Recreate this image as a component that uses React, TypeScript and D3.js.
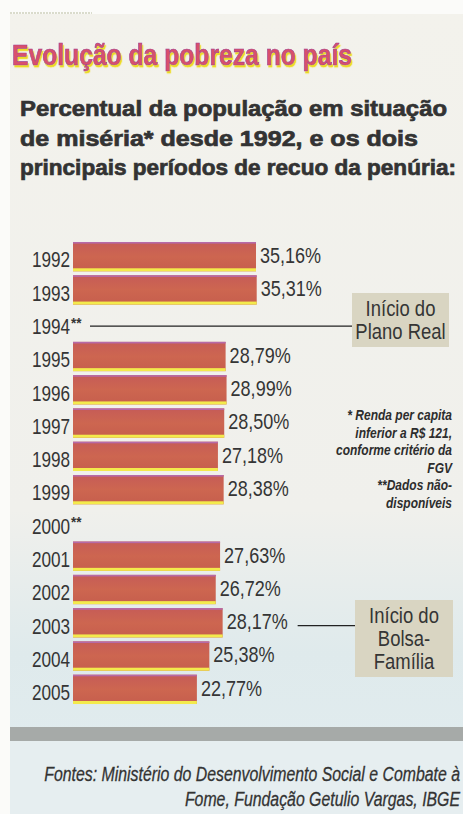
import * as d3 from "d3";

// Percentual da população em situação de miséria (FGV)
const years: string[] = [
  "1992", "1993", "1994", "1995", "1996", "1997", "1998",
  "1999", "2000", "2001", "2002", "2003", "2004", "2005",
];
const values: (number | null)[] = [
  35.16, 35.31, null, 28.79, 28.99, 28.5, 27.18,
  28.38, null, 27.63, 26.72, 28.17, 25.38, 22.77,
];

const titleText = "Evolução da pobreza no país";
const subtitleLines = [
  "Percentual da população em situação",
  "de miséria* desde 1992, e os dois",
  "principais períodos de recuo da penúria:",
];
const footnoteLines = [
  "* Renda per capita",
  "inferior a R$ 121,",
  "conforme critério da",
  "FGV",
  "**Dados não-",
  "disponíveis",
];
const sourceLines = [
  "Fontes: Ministério do Desenvolvimento Social e Combate à",
  "Fome, Fundação Getulio Vargas, IBGE",
];
const annotations = [
  { year: "1994", lines: ["Início do", "Plano Real"] },
  { year: "2003", lines: ["Início do", "Bolsa-", "Família"] },
];

const W = 463;
const H = 814;
const FONT = "'Liberation Sans', Arial, Helvetica, sans-serif";
const INK = "#353535";

const fmt = (v: number) => d3.format(".2f")(v).replace(".", ",") + "%";

const App = () => {
  const x = d3.scaleLinear().domain([-3.2, 36]).range([73, 260]);
  const y = d3
    .scaleBand<string>()
    .domain(years)
    .range([238, 708])
    .paddingInner(0.12)
    .paddingOuter(0.12);
  const bw = y.bandwidth();

  const narrow = (
    tx: number,
    ty: number,
    s: string,
    size: number,
    sx: number,
    anchor: "start" | "end" | "middle" = "start",
    extra: Record<string, string | number> = {}
  ) => (
    <text
      transform={`translate(${tx},${ty}) scale(${sx},1)`}
      fontFamily={FONT}
      fontSize={size}
      fill={INK}
      textAnchor={anchor}
      {...extra}
    >
      {s}
    </text>
  );

  return (
    <svg
      width={W}
      height={H}
      viewBox={`0 0 ${W} ${H}`}
      style={{ position: "absolute", left: 0, top: 0, display: "block" }}
    >
      <defs>
        <linearGradient id="paper" x1="0" y1="0" x2="0" y2="1">
          <stop offset="0" stopColor="#f3f2ec" />
          <stop offset="0.62" stopColor="#f0f0ec" />
          <stop offset="0.8" stopColor="#dfeaec" />
          <stop offset="1" stopColor="#e2edf0" />
        </linearGradient>
        <linearGradient id="bar" x1="0" y1="0" x2="0" y2="1">
          <stop offset="0" stopColor="#c65c57" />
          <stop offset="0.5" stopColor="#cd6650" />
          <stop offset="1" stopColor="#c65e4d" />
        </linearGradient>
        <filter id="yshadow" x="-5%" y="-20%" width="110%" height="150%">
          <feDropShadow dx="1.2" dy="2.2" stdDeviation="0.4" floodColor="#eedb22" floodOpacity="1" />
        </filter>
      </defs>

      <rect width={W} height={H} fill="#fbfbf9" />
      <rect x={10} y={14} width={W - 10} height={H - 14} fill="url(#paper)" />
      <line x1={10} x2={92} y1={13} y2={13} stroke="#b9bca0" strokeWidth={1.2} strokeDasharray="2 1" />

      {/* title */}
      <text
        x={12}
        y={65}
        fontFamily={FONT}
        fontWeight="bold"
        fontSize={29}
        fill="#d9506c"
        stroke="#a04090"
        strokeWidth={0.7}
        textLength={340}
        lengthAdjust="spacingAndGlyphs"
        filter="url(#yshadow)"
      >
        {titleText}
      </text>

      {/* subtitle */}
      {subtitleLines.map((s, i) => (
        <text
          key={s}
          x={20}
          y={116 + i * 29.5}
          fontFamily={FONT}
          fontWeight="bold"
          fontSize={22}
          fill="#333"
          stroke="#333"
          strokeWidth={0.7}
          textLength={[427, 398, 436][i]}
          lengthAdjust="spacingAndGlyphs"
        >
          {s}
        </text>
      ))}

      {/* bars */}
      {years.map((yr, i) => {
        const v = values[i];
        const top = y(yr)!;
        return (
          <g key={yr}>
            {narrow(32, top + 25.5, yr, 22, 0.78)}
            {v === null &&
              narrow(33 + 38, top + 19, "**", 15, 0.9, "start", { fontWeight: "bold" })}
            {v !== null && (
              <g>
                <rect x={x(-3.2)} y={top} width={x(v) - x(-3.2)} height={bw} fill="url(#bar)" />
                <rect x={x(-3.2)} y={top} width={x(v) - x(-3.2)} height={1.6} fill="#b66aa8" />
                <rect x={x(-3.2)} y={top + bw - 3} width={x(v) - x(-3.2)} height={3} fill="#f3ea4c" />
                {narrow(x(v) + 4, top + 21, fmt(v), 22, 0.82)}
              </g>
            )}
          </g>
        );
      })}

      {/* annotations */}
      {annotations.map((a, k) => {
        const i = years.indexOf(a.year);
        const v = values[i];
        const top = y(a.year)!;
        const lineY = top + bw * 0.6;
        const x1 = v === null ? 90 : x(v) + 75;
        const boxX = k === 0 ? 352 : 355;
        const boxW = k === 0 ? 97 : 98;
        const boxH = a.lines.length * 23 + 8;
        const boxY = k === 0 ? 293 : 600;
        return (
          <g key={a.year}>
            <line x1={x1} x2={boxX} y1={lineY} y2={lineY} stroke="#222" strokeWidth={1.3} />
            <rect x={boxX} y={boxY} width={boxW} height={boxH} fill="#d9d5c2" />
            {a.lines.map((s, j) =>
              <g key={s}>{narrow(boxX + boxW / 2, boxY + 23 + j * 23, s, 22, 0.84, "middle")}</g>
            )}
          </g>
        );
      })}

      {/* footnote */}
      {footnoteLines.map((s, i) => (
        <g key={s}>
          {narrow(452, 420 + i * 17.6, s, 15, 0.8, "end", {
            fontWeight: "bold",
            fontStyle: "italic",
            fill: "#2d2d2d",
          })}
        </g>
      ))}

      {/* gray band and source */}
      <rect x={10} y={727} width={W - 10} height={14} fill="#a6aaa8" />
      <rect x={10} y={741} width={W - 10} height={H - 741} fill="#e6eef0" />
      {sourceLines.map((s, i) => (
        <g key={s}>
          {narrow(460, 781 + i * 25, s, 21, 0.755, "end", {
            fontStyle: "italic",
            fill: "#333",
            stroke: "#333",
            strokeWidth: 0.3,
          })}
        </g>
      ))}
    </svg>
  );
};

export default App;
